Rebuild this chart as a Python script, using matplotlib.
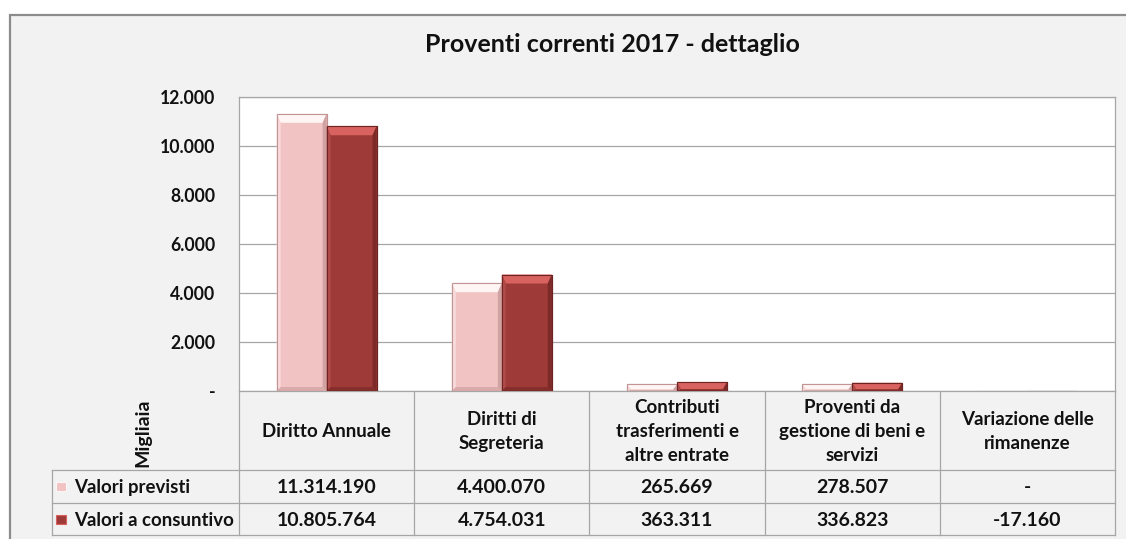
import matplotlib
matplotlib.use("Agg")
import matplotlib.pyplot as plt
from matplotlib.patches import Rectangle, Polygon

# ---- data ---------------------------------------------------------------
title = "Proventi correnti 2017 - dettaglio"
categories = [
    "Diritto Annuale",
    "Diritti di\nSegreteria",
    "Contributi\ntrasferimenti e\naltre entrate",
    "Proventi da\ngestione di beni e\nservizi",
    "Variazione delle\nrimanenze",
]
series_names = ["Valori previsti", "Valori a consuntivo"]
valori_previsti = [11314190, 4400070, 265669, 278507, 0]
valori_consuntivo = [10805764, 4754031, 363311, 336823, -17160]
y_ticks = [0, 2000, 4000, 6000, 8000, 10000, 12000]
y_label = "Migliaia"

# ---- styling ------------------------------------------------------------
FONT = "Lato"
plt.rcParams["font.family"] = [FONT, "DejaVu Sans"]
TEXT = "#111111"
GRID = "#A6A6A6"
CHART_BG = "#F2F2F2"
W, H = 1126, 539

pink = dict(face="#F2C3C3", top="#FFF5F5", dark="#C29595", light="#F8DADA")
red = dict(face="#9E3A38", top="#D8625F", dark="#6E2422", light="#B04A48")
palettes = [pink, red]


def fmt_it(v):
    """Italian thousands separator; zero shown as a dash."""
    if v == 0:
        return "-"
    s = f"{abs(v):,}".replace(",", ".")
    return ("-" if v < 0 else "") + s


fig = plt.figure(figsize=(W / 100, H / 100), dpi=100)
fig.patch.set_facecolor("white")

# canvas in pixel coordinates for frame, table and texts
bg = fig.add_axes([0, 0, 1, 1], zorder=0)
bg.set_xlim(0, W)
bg.set_ylim(H, 0)
bg.axis("off")
bg.add_patch(Rectangle((10, 15), W, H, facecolor=CHART_BG,
                       edgecolor="#8C8C8C", linewidth=1.6))

# ---- bar area -----------------------------------------------------------
px_left, px_right, px_top, px_bottom = 239, 1115, 97, 391
ax = fig.add_axes([px_left / W, 1 - px_bottom / H,
                   (px_right - px_left) / W, (px_bottom - px_top) / H], zorder=2)
ax.set_facecolor("white")
n = len(categories)
ax.set_xlim(-0.5, n - 0.5)
ax.set_ylim(0, y_ticks[-1])
ax.set_yticks(y_ticks)
ax.set_yticklabels([fmt_it(t) for t in y_ticks], fontsize=12.7,
                   fontweight="bold", color=TEXT)
ax.tick_params(axis="y", length=0, pad=17)
ax.set_xticks([])
ax.yaxis.grid(True, color=GRID, linewidth=0.9)
ax.set_axisbelow(True)
for sp in ax.spines.values():
    sp.set_color(GRID)
    sp.set_linewidth(0.9)

bw = 0.285
dx = n / (px_right - px_left)             # data units per pixel (x)
dy = y_ticks[-1] / (px_bottom - px_top)   # data units per pixel (y)

for k, vals in enumerate([valori_previsti, valori_consuntivo]):
    pal = palettes[k]
    xs = [i + (k - 0.5) * bw for i in range(n)]
    bars = ax.bar(xs, [v / 1000 for v in vals], width=bw,
                  color=pal["face"], edgecolor=pal["dark"], linewidth=0.8,
                  zorder=3)
    for b in bars:
        x0, w, h = b.get_x(), b.get_width(), b.get_height()
        if h <= 0:
            continue
        x1 = x0 + w
        bt = min(9 * dy, h * 0.8)     # bevel depth (top)
        bs = 4 * dx                   # bevel depth (sides)
        bb = min(4 * dy, h * 0.2)     # bevel depth (bottom)
        ax.add_patch(Polygon([(x0, h), (x1, h), (x1 - bs, h - bt), (x0 + bs, h - bt)],
                             closed=True, facecolor=pal["top"], edgecolor="none", zorder=4))
        ax.add_patch(Polygon([(x0, 0), (x0, h), (x0 + bs, h - bt), (x0 + bs, bb)],
                             closed=True, facecolor=pal["light"], edgecolor="none", zorder=4))
        ax.add_patch(Polygon([(x1, 0), (x1, h), (x1 - bs, h - bt), (x1 - bs, bb)],
                             closed=True, facecolor=pal["dark"], edgecolor="none",
                             alpha=0.7, zorder=4))
        ax.add_patch(Polygon([(x0, 0), (x1, 0), (x1 - bs, bb), (x0 + bs, bb)],
                             closed=True, facecolor=pal["dark"], edgecolor="none",
                             alpha=0.5, zorder=4))
        ax.add_patch(Rectangle((x0, 0), w, h, facecolor="none",
                               edgecolor=pal["dark"], linewidth=0.8, zorder=5))

# ---- title --------------------------------------------------------------
bg.text(612, 45, title, ha="center", va="center", fontsize=18,
        fontweight="bold", color=TEXT)

# ---- data table ---------------------------------------------------------
col_edges = [px_left + (px_right - px_left) * (i / n) for i in range(n + 1)]
header_bottom, row1_bottom, row2_bottom = 470, 503, 535
table_left = 52
lw = 0.9

for xe in col_edges:
    bg.plot([xe, xe], [px_bottom, row2_bottom], color=GRID, lw=lw, zorder=1)
bg.plot([table_left, table_left], [header_bottom, row2_bottom], color=GRID, lw=lw, zorder=1)
for yy in (header_bottom, row1_bottom, row2_bottom):
    bg.plot([table_left, px_right], [yy, yy], color=GRID, lw=lw, zorder=1)

row_centers = [(header_bottom + row1_bottom) / 2, (row1_bottom + row2_bottom) / 2]
for i, cat in enumerate(categories):
    cx = (col_edges[i] + col_edges[i + 1]) / 2
    bg.text(cx, (px_bottom + header_bottom) / 2 + 1, cat, ha="center", va="center",
            fontsize=13.5, fontweight="bold", color=TEXT, linespacing=1.5)
    for r, vals in enumerate([valori_previsti, valori_consuntivo]):
        bg.text(cx, row_centers[r] + 1, fmt_it(vals[i]), ha="center", va="center",
                fontsize=14, fontweight="bold", color=TEXT)

for r, name in enumerate(series_names):
    pal = palettes[r]
    yc = row_centers[r]
    bg.add_patch(Rectangle((56, yc - 4.5), 10, 9, facecolor=pal["face"],
                           edgecolor=pal["top"], linewidth=0.8, zorder=2))
    bg.text(74, yc + 1, name, ha="left", va="center", fontsize=13.4,
            fontweight="bold", color=TEXT)

bg.text(143, 433, y_label, ha="center", va="center", rotation=90,
        fontsize=14, fontweight="bold", color=TEXT)

fig.savefig("out.png", dpi=100, facecolor=fig.get_facecolor())
